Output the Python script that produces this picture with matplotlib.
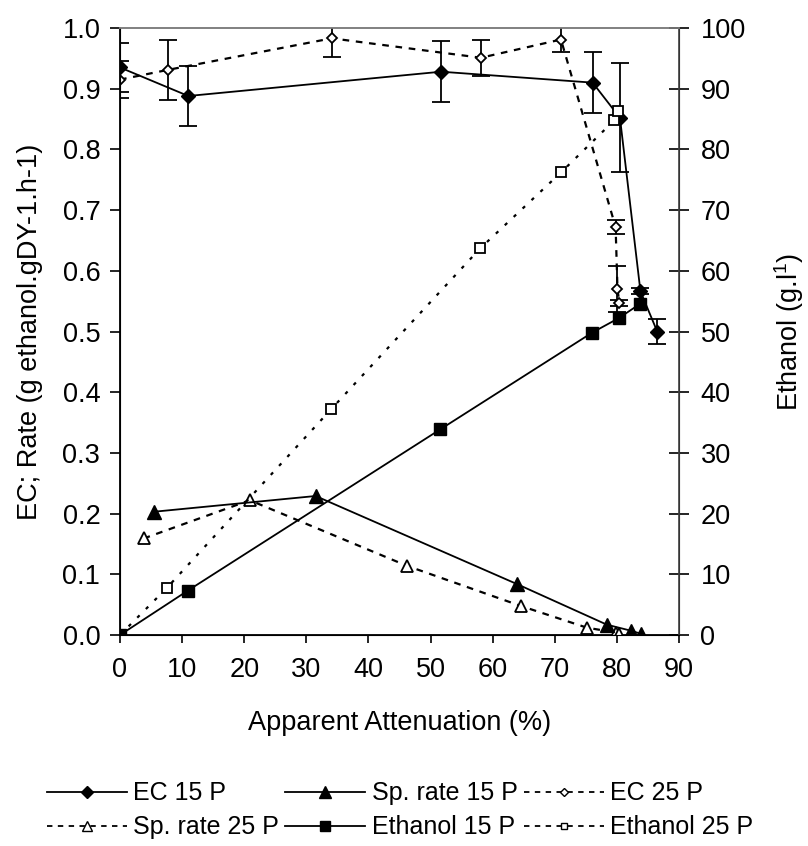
import matplotlib.pyplot as plt
from matplotlib.lines import Line2D

plt.rcParams["font.family"] = ["Liberation Sans", "DejaVu Sans"]
plt.rcParams["mathtext.fontset"] = "custom"
plt.rcParams["mathtext.rm"] = "Liberation Sans"

# EC 15 P (left axis)
ec15_x = [0, 11, 51.7, 76.1, 80.5, 83.8, 86.5]
ec15_y = [0.935, 0.888, 0.928, 0.910, 0.852, 0.566, 0.500]
ec15_err = [0.04, 0.05, 0.05, 0.05, 0.09, 0.005, 0.02]

# EC 25 P (left axis)
ec25_x = [0, 7.7, 34.1, 58.1, 71.0, 79.8, 80.1, 80.4]
ec25_y = [0.915, 0.931, 0.983, 0.951, 0.981, 0.672, 0.570, 0.547]
ec25_err = [0.03, 0.05, 0.03, 0.03, 0.02, 0.012, 0.038, 0.005]

# Sp. rate 15 P (left axis)
sp15_x = [5.4, 31.5, 63.9, 78.4, 82.3, 83.9]
sp15_y = [0.203, 0.229, 0.084, 0.017, 0.007, 0.002]

# Sp. rate 25 P (left axis)
sp25_x = [3.8, 20.9, 46.2, 64.5, 75.2, 79.9, 80.4]
sp25_y = [0.159, 0.222, 0.114, 0.048, 0.012, 0.004, 0.002]

# Ethanol 15 P (right axis)
et15_x = [0, 10.9, 51.6, 76.0, 80.3, 83.8]
et15_y = [0, 7.3, 33.9, 49.8, 52.2, 54.6]

# Ethanol 25 P (right axis)
et25_x = [0, 7.5, 34.0, 58.0, 71.0, 79.6, 80.2]
et25_y = [0, 7.7, 37.2, 63.7, 76.2, 84.8, 86.3]

dash = (0, (3, 3))
dots = (0, (1.5, 4))
fs = 19.5

fig = plt.figure(figsize=(8.08, 8.46), dpi=100)
ax = fig.add_axes([0.1485, 0.2494, 0.6918, 0.7175])
ax2 = ax.twinx()

ax.errorbar(ec15_x, ec15_y, yerr=ec15_err, color="black", lw=1.3,
            marker="D", ms=7, mfc="black", mec="black",
            capsize=6.5, elinewidth=1.3, capthick=1.3, zorder=5)
ax.errorbar(ec25_x, ec25_y, yerr=ec25_err, color="black", lw=1.6, ls=dash,
            marker="D", ms=5.2, mfc="white", mec="black", mew=1.3,
            capsize=6.5, elinewidth=1.3, capthick=1.3, zorder=4)
ax.plot(sp15_x, sp15_y, color="black", lw=1.3, marker="^", ms=9.5,
        mfc="black", mec="black", zorder=5)
ax.plot(sp25_x, sp25_y, color="black", lw=1.6, ls=dash, marker="^", ms=8.5,
        mfc="white", mec="black", mew=1.3, zorder=4)

ax2.plot(et15_x, et15_y, color="black", lw=1.3, marker="s", ms=8.5,
         mfc="black", mec="black", zorder=5)
ax2.plot(et25_x, et25_y, color="black", lw=1.6, ls=dots, marker="s",
         ms=7, mfc="white", mec="black", mew=1.3, zorder=4)

ax.set_xlim(0, 90)
ax.set_ylim(0, 1.0)
ax2.set_ylim(0, 100)
ax.set_xticks(range(0, 91, 10))
ax.set_yticks([i / 10 for i in range(11)])
ax.set_yticklabels([f"{i / 10:.1f}" for i in range(11)])
ax2.set_yticks(range(0, 101, 10))

ax.tick_params(axis="x", direction="out", length=6, width=1.2, labelsize=fs, pad=10)
ax.tick_params(axis="y", direction="out", length=7.2, width=1.2, labelsize=fs, pad=7)
ax2.tick_params(axis="y", direction="inout", length=15, width=1.2, labelsize=fs, pad=8)

for a in (ax, ax2):
    a.spines["top"].set_color("#808080")
    a.spines["top"].set_linewidth(1.2)
ax2.spines["right"].set_color("#404040")
ax2.spines["right"].set_linewidth(1.2)
ax.spines["left"].set_linewidth(1.3)
ax.spines["bottom"].set_linewidth(1.3)

ax.set_xlabel("Apparent Attenuation (%)", fontsize=fs, labelpad=19)
ax.set_ylabel("EC; Rate (g ethanol.gDY-1.h-1)", fontsize=fs, labelpad=14)
ax2.set_ylabel("Ethanol (g.l$^{\\mathregular{1}}$)", fontsize=fs, labelpad=19)

handles = [
    Line2D([], [], color="black", lw=1.3, marker="D", ms=6.5, mfc="black"),
    Line2D([], [], color="black", lw=1.3, ls=dash, marker="^", ms=7, mfc="white"),
    Line2D([], [], color="black", lw=1.3, marker="^", ms=8, mfc="black"),
    Line2D([], [], color="black", lw=1.3, marker="s", ms=7, mfc="black"),
    Line2D([], [], color="black", lw=1.3, ls=dash, marker="D", ms=4.5, mfc="white"),
    Line2D([], [], color="black", lw=1.3, ls=dash, marker="s", ms=5, mfc="white"),
]
labels = ["EC 15 P", "Sp. rate 25 P", "Sp. rate 15 P", "Ethanol 15 P",
          "EC 25 P", "Ethanol 25 P"]
fig.legend(handles, labels, ncol=3, loc="center", bbox_to_anchor=(0.495, 0.042),
           frameon=False, fontsize=18, handlelength=3.2, handletextpad=0.25,
           columnspacing=0.25, labelspacing=0.4, borderpad=0.1)

fig.savefig("out.png", dpi=100)
